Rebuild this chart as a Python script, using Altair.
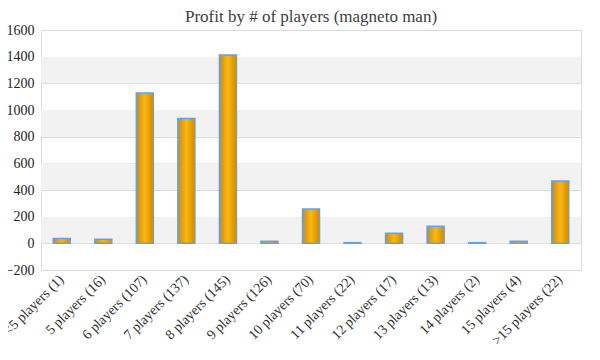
import altair as alt
import pandas as pd

categories = ["<5 players (1)", "5 players (16)", "6 players (107)", "7 players (137)",
              "8 players (145)", "9 players (126)", "10 players (70)", "11 players (22)",
              "12 players (17)", "13 players (13)", "14 players (2)", "15 players (4)",
              ">15 players (22)"]
profits = [37, 30, 1127, 937, 1412, 15, 257, 5, 76, 128, 5, 15, 468]
band_lo = [1200, 800, 400, 0]
band_hi = [1400, 1000, 600, 200]
y_ticks = [-200, 0, 200, 400, 600, 800, 1000, 1200, 1400, 1600]

df = pd.DataFrame({"cat": categories, "profit": profits})
bands = pd.DataFrame({"lo": band_lo, "hi": band_hi})

FONT = "Liberation Serif"
yscale = alt.Scale(domain=[-200, 1600], nice=False, zero=False)
yaxis = alt.Axis(values=y_ticks, title=None, grid=True, gridColor="#D9D9D9",
                 domain=False, ticks=False, labelFont=FONT, labelFontSize=14,
                 labelColor="#222222", labelPadding=7, format="d",
                 labelOverlap=False, labelBound=False, labelFlush=False)

band_layer = alt.Chart(bands).mark_rect(color="#F2F2F2").encode(
    y=alt.Y("lo:Q", scale=yscale, axis=yaxis),
    y2="hi:Q",
    x=alt.value(0), x2=alt.value(540)
)

grad = alt.Gradient(
    gradient="linear",
    stops=[alt.GradientStop(color="#D28A00", offset=0),
           alt.GradientStop(color="#FBB812", offset=0.5),
           alt.GradientStop(color="#D28A00", offset=1)],
    x1=0, x2=1, y1=0, y2=0,
)

bars = alt.Chart(df).mark_bar(size=17, color=grad, stroke="#62A3E6", strokeWidth=1.5).encode(
    x=alt.X("cat:N", sort=categories, title=None,
            scale=alt.Scale(paddingInner=0.5, paddingOuter=0.25),
            axis=alt.Axis(labelAngle=-45, labelAlign="right", labelBaseline="middle",
                          domain=False, ticks=False, labelFont=FONT, labelFontSize=14,
                          labelColor="#333333", labelPadding=7, labelOverlap=False,
                          labelBound=False)),
    y=alt.Y("profit:Q", scale=yscale, axis=yaxis),
)

chart = alt.layer(band_layer, bars).properties(
    width=540, height=240,
    title=alt.TitleParams("Profit by # of players  (magneto man)", font=FONT, fontSize=17,
                          fontWeight="normal", color="#404040", anchor="middle", offset=-3),
    autosize=alt.AutoSizeParams(type="none"),
    padding={"left": 33, "top": 22, "right": 11, "bottom": 82},
).configure_view(stroke="#D9D9D9", strokeWidth=1).configure_axisY(
    labelOverlap=False).configure(background="white")

chart.save("out.html", embed_options={"renderer": "svg", "actions": False})
